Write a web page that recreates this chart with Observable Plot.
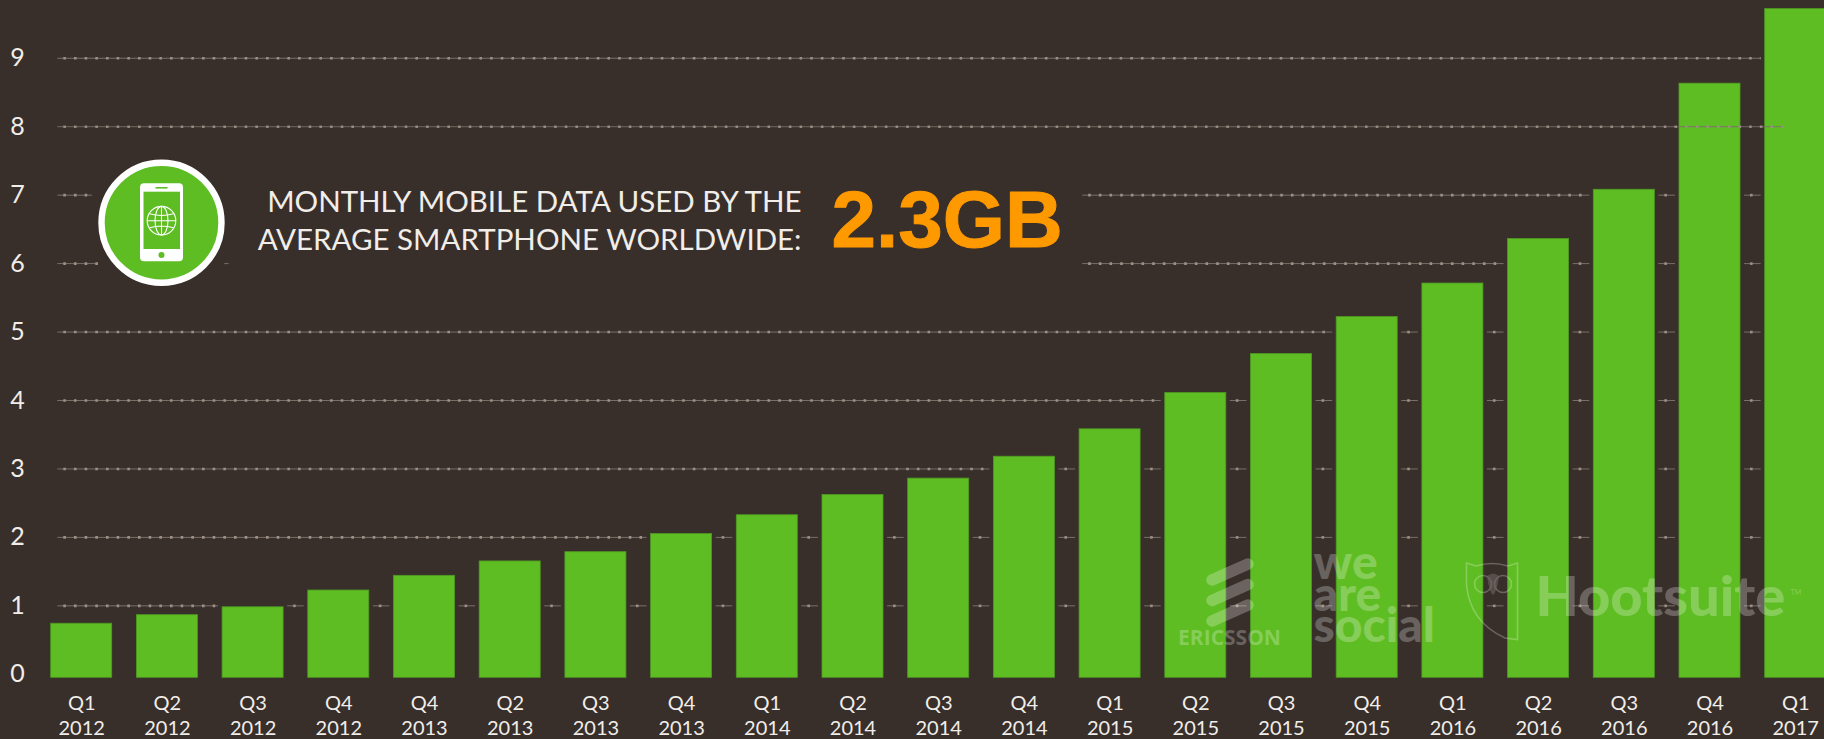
<!DOCTYPE html>
<html><head><meta charset="utf-8">
<script src="https://cdn.jsdelivr.net/npm/d3@7"></script>
<script src="https://cdn.jsdelivr.net/npm/@observablehq/plot@0.6"></script>
<style>
html,body{margin:0;padding:0;background:#382f2b;overflow:hidden}
svg{display:block}
</style></head><body><div id="chart"></div>
<script>
const quarters = ["Q1","Q2","Q3","Q4","Q4","Q2","Q3","Q4","Q1","Q2","Q3","Q4","Q1","Q2","Q3","Q4","Q1","Q2","Q3","Q4","Q1"];
const years = [2012,2012,2012,2012,2013,2013,2013,2013,2014,2014,2014,2014,2015,2015,2015,2015,2016,2016,2016,2016,2017];
const values = [0.79,0.915,1.03,1.275,1.49,1.70,1.835,2.10,2.375,2.67,2.91,3.23,3.63,4.16,4.73,5.27,5.76,6.41,7.13,8.68,9.77];
const yTicks = [0,1,2,3,4,5,6,7,8,9];
const gridLevels = [1,2,3,4,5,6,7,9];
const overlayLevel = 8;

const BG = "#382f2b", GREEN = "#5ebd22", INK = "#f1ede9", FONT = "Lato, sans-serif";
const barHalf = 0.356, gapInset = 0.403, gridStart = -0.279;

const bars = values.map((v, i) => ({i, v}));

// Gridlines stop short of every bar that reaches them, and leave room for the callout.
const calloutGaps = {6: [[0.196, 1.67], [1.72, 11.68]], 7: [[0.126, 11.68]]};
const segments = [];
for (const level of gridLevels) {
  let runs = [], s = gridStart;
  values.forEach((v, i) => { if (v >= level) { runs.push([s, i - gapInset]); s = i + gapInset; } });
  for (const [g0, g1] of calloutGaps[level] || []) {
    runs = runs.flatMap(([a, b]) => (g0 >= b || g1 <= a) ? [[a, b]] : [[a, g0], [g1, b]].filter(([p, q]) => q > p));
  }
  runs.forEach(([a, b]) => segments.push({level, a, b}));
}
const overlay = [{level: overlayLevel, a: gridStart, b: 19.857}];

const grid = (data, opacity = 1) => [
  Plot.ruleY(data, {y: "level", x1: "a", x2: "b", dy: -3.5, stroke: "#7a6f68", strokeWidth: 1, strokeOpacity: opacity}),
  Plot.ruleY(data, {y: "level", x1: "a", x2: "b", dy: -3.5, stroke: "#9c9087", strokeWidth: 2.6, strokeDasharray: "2.6 8.07", strokeDashoffset: -6, strokeOpacity: opacity})
];

function svgEl(parent, tag, attrs) {
  const e = document.createElementNS("http://www.w3.org/2000/svg", tag);
  for (const k in attrs) e.setAttribute(k, attrs[k]);
  parent.appendChild(e);
  return e;
}

// Phone badge of the callout
function badge() {
  const g = document.createElementNS("http://www.w3.org/2000/svg", "g");
  const cx = 161.5, cy = 222.7;
  svgEl(g, "circle", {cx, cy, r: 60, fill: GREEN, stroke: "#fff", "stroke-width": 6.4});
  svgEl(g, "rect", {x: 140, y: 183.3, width: 43, height: 78, rx: 4, fill: "#fff"});
  svgEl(g, "rect", {x: 143.5, y: 191.7, width: 36.5, height: 57.3, fill: GREEN});
  svgEl(g, "rect", {x: 155.5, y: 187, width: 12, height: 1.6, fill: GREEN});
  svgEl(g, "circle", {cx: 161.5, cy: 255, r: 3, fill: GREEN});
  const globe = {fill: "none", stroke: "#fff", "stroke-width": 1.1};
  const gy = 220.7;
  svgEl(g, "circle", {cx: 161.5, cy: gy, r: 14.3, ...globe});
  svgEl(g, "ellipse", {cx: 161.5, cy: gy, rx: 6.5, ry: 14.3, ...globe});
  svgEl(g, "path", {d: `M161.5 ${gy-14.3}V${gy+14.3}M147.2 ${gy}H175.8M149.5 ${gy-7}Q161.5 ${gy-3.5} 173.5 ${gy-7}M149.5 ${gy+7}Q161.5 ${gy+3.5} 173.5 ${gy+7}`, ...globe});
  return g;
}

// Faint logo shapes that sit over the bars
function logos() {
  const g = document.createElementNS("http://www.w3.org/2000/svg", "g");
  g.setAttribute("opacity", 0.25);
  [0, 1, 2].forEach(k => {
    const y = 579 + k * 20.5;
    svgEl(g, "path", {d: `M1212 ${y+1}L1248 ${y-15}`, stroke: "#fff", "stroke-width": 11.5, "stroke-linecap": "round", fill: "none"});
  });
  const owl = {fill: "none", stroke: "#fff", "stroke-width": 1.6};
  svgEl(g, "path", {d: "M1466.5 563L1476 566Q1492 561 1508 566L1517.5 563V639.5L1505 638Q1470 622 1466.5 585Z", ...owl});
  svgEl(g, "circle", {cx: 1483, cy: 584, r: 8.5, ...owl});
  svgEl(g, "circle", {cx: 1503, cy: 584, r: 8.5, ...owl});
  svgEl(g, "path", {d: "M1487 576Q1493 571 1499 576Q1497 592 1493 595Q1489 592 1487 576Z", fill: "#fff", "fill-opacity": 0.6});
  return g;
}

const label = (text, dx, dy, o) => Plot.text([text], {frameAnchor: "top-left", dx, dy, text: d => d, fontFamily: FONT, lineAnchor: "middle", ...o});

const chart = Plot.plot({
  width: 1824, height: 739,
  marginLeft: 0, marginRight: 0, marginTop: 0, marginBottom: 61.7,
  style: {background: BG, color: INK, fontFamily: FONT},
  x: {domain: [0, 20], range: [81.2, 1795.2], axis: null},
  y: {domain: [0, 9.895], range: [677.3, 0], axis: null},
  marks: [
    ...grid(segments),
    Plot.rectY(bars, {x1: d => d.i - barHalf, x2: d => d.i + barHalf, y1: 0, y2: "v", fill: GREEN, stroke: "#4f9a22", strokeWidth: 0.8}),
    ...grid(overlay, 0.9),
    Plot.axisY({ticks: yTicks, tickSize: 0, tickPadding: 0, anchor: "left", textAnchor: "middle", dx: 17, dy: -3.5, fontSize: 25, fill: INK, fontWeight: 400, tickFormat: d => String(d)}),
    Plot.axisX({ticks: d3.range(quarters.length), tickSize: 0, tickPadding: 14.5, anchor: "bottom", fontSize: 20, lineHeight: 1.25, fill: INK, tickFormat: i => `${quarters[i]}\n${years[i]}`}),
    badge,
    label("MONTHLY MOBILE DATA USED BY THE", 801, 201.7, {textAnchor: "end", fontSize: 29.5, fill: INK}),
    label("AVERAGE SMARTPHONE WORLDWIDE:", 801, 240, {textAnchor: "end", fontSize: 29.5, fill: INK}),
    label("2.3GB", 831, 221, {textAnchor: "start", fontSize: 80, fontWeight: 700, fill: "#ff9900", stroke: "#ff9900", strokeWidth: 1, fontFamily: "Liberation Sans, sans-serif"}),
    logos,
    label("ERICSSON", 1229, 638, {textAnchor: "middle", fontSize: 21, fontWeight: 700, fill: "#fff", fillOpacity: 0.25, fontFamily: "Open Sans, sans-serif"}),
    label("we\nare\nsocial", 1313, 600, {textAnchor: "start", fontSize: 48, lineHeight: 0.66, fontWeight: 900, fill: "#fff", fillOpacity: 0.25}),
    label("Hootsuite", 1535, 598, {textAnchor: "start", fontSize: 56, fontWeight: 900, fill: "#fff", fillOpacity: 0.25}),
    label("TM", 1790, 592, {textAnchor: "start", fontSize: 7, fill: "#fff", fillOpacity: 0.25})
  ]
});
document.getElementById("chart").appendChild(chart);
</script></body></html>
